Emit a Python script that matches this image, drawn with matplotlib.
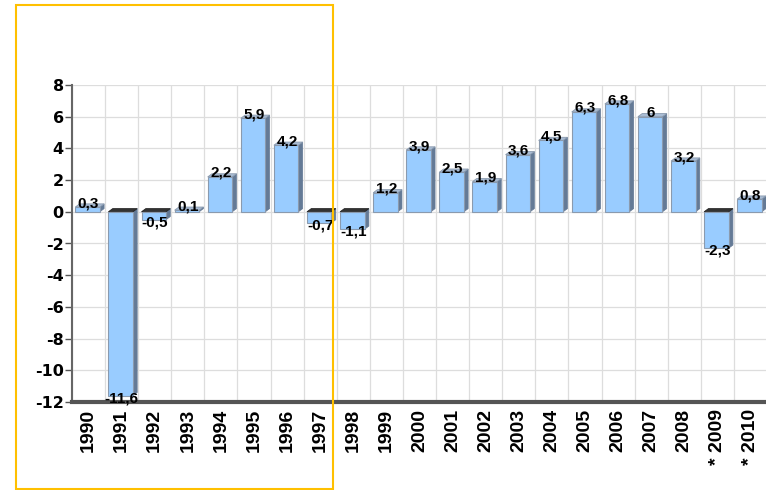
import matplotlib.pyplot as plt
from matplotlib.patches import Polygon, Rectangle

years = ['1990', '1991', '1992', '1993', '1994', '1995', '1996', '1997', '1998', '1999',
         '2000', '2001', '2002', '2003', '2004', '2005', '2006', '2007', '2008', '* 2009', '* 2010']
growth = [0.3, -11.6, -0.5, 0.1, 2.2, 5.9, 4.2, -0.7, -1.1, 1.2,
          3.9, 2.5, 1.9, 3.6, 4.5, 6.3, 6.8, 6.0, 3.2, -2.3, 0.8]
yticks = [8, 6, 4, 2, 0, -2, -4, -6, -8, -10, -12]

plt.rcParams['font.family'] = ['Liberation Sans', 'DejaVu Sans']

fig = plt.figure(figsize=(7.66, 4.90), dpi=100)
ax = fig.add_axes([72 / 766, 88 / 490, 695 / 766, 317 / 490])

face = '#99CCFF'
side = '#647A96'
top_pos = '#A9BCD4'
edge = '#8A9AAE'
w = 0.74
dx, dy = 0.13, 0.2

for i, v in enumerate(growth):
    x0, x1 = i - w / 2 - 0.03, i + w / 2 - 0.03
    lo, hi = min(0, v), max(0, v)
    # side face
    ax.add_patch(Polygon([(x1, lo), (x1 + dx, lo + dy), (x1 + dx, hi + dy), (x1, hi)],
                         closed=True, fc=side, ec=side, lw=0.5, zorder=3))
    # top face
    tc = top_pos if v > 0 else '#333333'
    ax.add_patch(Polygon([(x0, hi), (x0 + dx, hi + dy), (x1 + dx, hi + dy), (x1, hi)],
                         closed=True, fc=tc, ec=edge if v > 0 else '#222222', lw=0.6, zorder=3))
    # front face
    ax.add_patch(Rectangle((x0, lo), w, hi - lo, fc=face, ec=edge, lw=0.8, zorder=4))
    txt = ('%g' % v).replace('.', ',')
    if v >= 0:
        ax.text(i, v + 0.25, txt, ha='center', va='center', fontsize=11,
                fontweight='bold', zorder=6)
    else:
        ax.text(i, v - 0.15, txt, ha='center', va='center', fontsize=11,
                fontweight='bold', zorder=6)

ax.set_xlim(-0.5, len(years) - 0.5)
ax.set_ylim(-12, 8)
ax.set_yticks(yticks)
ax.set_yticklabels([str(t) for t in yticks], fontsize=11.5, fontweight='bold',
                   family='DejaVu Sans')
ax.set_xticks(range(len(years)))
ax.set_xticklabels(years, rotation=90, fontsize=14, fontweight='bold', va='top')
ax.tick_params(axis='x', length=0, pad=5)
ax.tick_params(axis='y', length=5, width=1, color='#555555', pad=1, direction='out')

# grid lines between categories and at each y tick
for k in range(len(years) + 1):
    ax.axvline(k - 0.5, color='#DDDDDD', lw=0.9, zorder=1)
for t in yticks:
    ax.axhline(t, color='#DDDDDD', lw=0.9, zorder=1)

for s in ['top', 'right']:
    ax.spines[s].set_visible(False)
ax.spines['left'].set_color('#666666')
ax.spines['left'].set_linewidth(1.5)
ax.spines['bottom'].set_color('#555555')
ax.spines['bottom'].set_linewidth(3)
ax.spines['bottom'].set_zorder(5)

# yellow selection frame
fig.patches.append(Rectangle((16 / 766, 1 / 490), 317 / 766, 484 / 490,
                             transform=fig.transFigure, fill=False,
                             ec='#FFC000', lw=1.5, zorder=10))

fig.savefig('out.png', dpi=100)
